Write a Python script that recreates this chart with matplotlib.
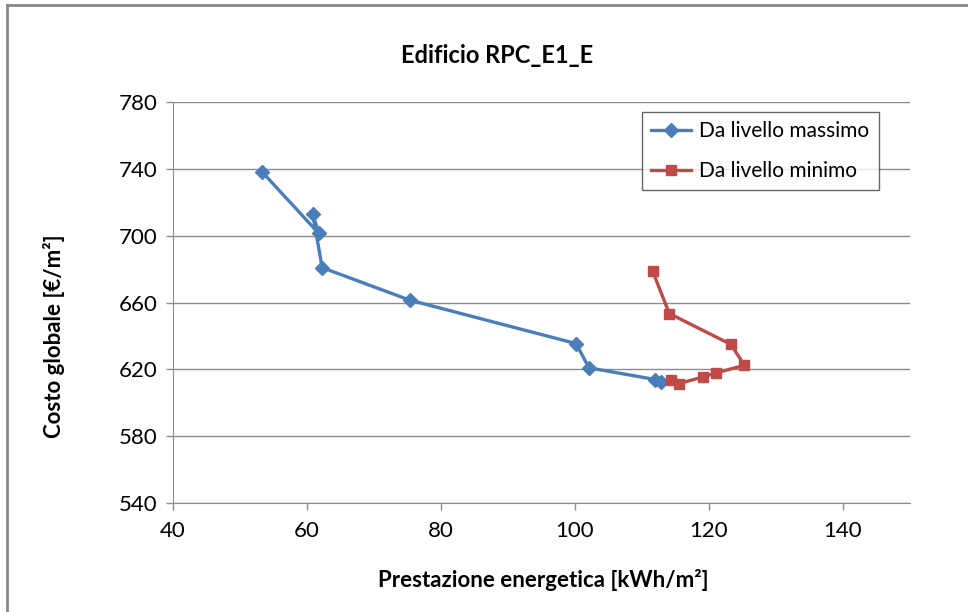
import matplotlib
matplotlib.use('Agg')
import matplotlib.pyplot as plt
from matplotlib.lines import Line2D

plt.rcParams['font.family'] = ['Lato', 'DejaVu Sans']

# Da livello massimo
max_x = [53.3, 61.8, 60.9, 62.3, 75.4, 100.2, 102.1, 112.0, 112.8]
max_y = [738.5, 701.5, 713.0, 681.0, 661.5, 635.5, 621.0, 614.0, 612.5]

# Da livello minimo
min_x = [111.6, 114.1, 123.3, 125.3, 121.1, 119.1, 115.5, 114.3]
min_y = [679.0, 653.5, 635.0, 622.5, 618.0, 615.5, 611.5, 613.5]

x_ticks = [40, 60, 80, 100, 120, 140]
y_ticks = [540, 580, 620, 660, 700, 740, 780]

fig = plt.figure(figsize=(9.68, 6.12), dpi=100)
ax = fig.add_axes([0.1784, 0.178, 0.940 - 0.1784, 0.8328 - 0.178])

ax.plot(max_x, max_y, color='#4A7EBB', lw=2.4, marker='D', ms=7.5,
        label='Da livello massimo')
ax.plot(min_x, min_y, color='#BE4B48', lw=2.4, marker='s', ms=7.5,
        label='Da livello minimo')

ax.set_xlim(40, 150)
ax.set_ylim(540, 780)
ax.set_xticks(x_ticks)
ax.set_yticks(y_ticks)
ax.yaxis.grid(True, color='#8c8c8c', lw=1)
ax.set_axisbelow(True)
for s in ['top', 'right']:
    ax.spines[s].set_visible(False)
for s in ['left', 'bottom']:
    ax.spines[s].set_color('#8c8c8c')
ax.tick_params(axis='both', labelsize=16, color='#8c8c8c', length=5, width=1)
ax.tick_params(axis='x', pad=8)
ax.tick_params(axis='y', pad=6)

fig.text(0.513, 0.91, 'Edificio RPC_E1_E', ha='center', va='center',
         fontsize=17, fontweight='bold')
fig.text(0.561, 0.052, 'Prestazione energetica [kWh/m²]', ha='center', va='center',
         fontsize=16, fontweight='bold')
fig.text(0.056, 0.45, 'Costo globale [€/m²]', ha='center', va='center',
         fontsize=16, fontweight='bold', rotation=90)

leg = ax.legend(loc='upper left', bbox_to_anchor=(0.6365, 0.976), fontsize=15,
                frameon=True, fancybox=False, edgecolor='#404040', borderaxespad=0,
                handlelength=1.9, borderpad=0.45, labelspacing=0.95, handletextpad=0.4)
leg.get_frame().set_linewidth(1)

# outer chart frame
fig.add_artist(Line2D([7 / 968, 7 / 968], [0, 1 - 5 / 612], color='#888888', lw=2))
fig.add_artist(Line2D([7 / 968, 1], [1 - 5 / 612, 1 - 5 / 612], color='#888888', lw=2))

fig.savefig('out.png', dpi=100)
